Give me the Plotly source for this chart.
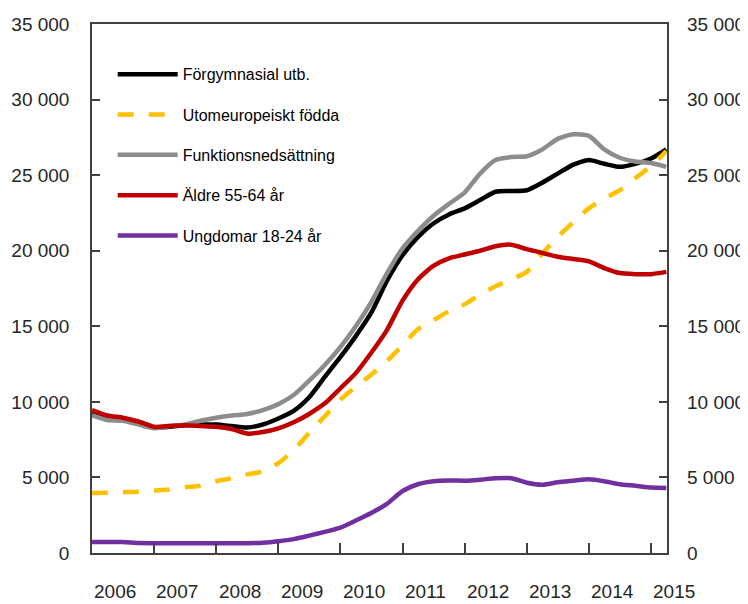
import pandas as pd
import plotly.graph_objects as go

# Quarterly observations, Q1 2006 .. Q2 2015
dates = pd.date_range("2006-01-01", periods=38, freq="QS")

forgymnasial = [9200, 9000, 8850, 8600, 8300, 8350, 8450, 8500, 8500, 8400,
                8300, 8500, 8900, 9400, 10300, 11650, 12970, 14350, 15900, 18000,
                19700, 20900, 21800, 22400, 22800, 23350, 23900, 23950, 24000, 24500,
                25100, 25700, 26000, 25750, 25550, 25750, 26100, 26700]
utomeuropeiskt = [3970, 3980, 4020, 4050, 4130, 4200, 4350, 4450, 4750, 4950,
                  5200, 5400, 5950, 6800, 7950, 9050, 10150, 11000, 11800, 12700,
                  13750, 14800, 15400, 16000, 16450, 17100, 17650, 18100, 18600, 19800,
                  20900, 21900, 22800, 23450, 24000, 24800, 25600, 26600]
funktion = [9100, 8800, 8750, 8500, 8250, 8400, 8500, 8750, 8950, 9100,
            9200, 9450, 9850, 10450, 11400, 12440, 13630, 15000, 16600, 18500,
            20150, 21300, 22300, 23100, 23850, 25100, 26000, 26200, 26250, 26700,
            27400, 27700, 27600, 26700, 26150, 25900, 25800, 25550]
aldre = [9460, 9100, 8950, 8700, 8350, 8400, 8450, 8400, 8350, 8200,
         7900, 8000, 8250, 8650, 9200, 9900, 10900, 11900, 13250, 14750,
         16700, 18100, 19000, 19500, 19750, 20000, 20300, 20400, 20100, 19850,
         19600, 19450, 19300, 18850, 18520, 18450, 18450, 18600]
ungdomar = [730, 730, 720, 660, 650, 650, 650, 650, 650, 650,
            650, 680, 780, 920, 1150, 1400, 1680, 2150, 2650, 3250,
            4100, 4550, 4750, 4800, 4780, 4850, 4950, 4950, 4650, 4520,
            4680, 4780, 4880, 4750, 4550, 4450, 4330, 4300]

series_names = ["Förgymnasial utb.", "Utomeuropeiskt födda", "Funktionsnedsättning",
                "Äldre 55-64 år", "Ungdomar 18-24 år"]
series_values = [forgymnasial, utomeuropeiskt, funktion, aldre, ungdomar]
series_colors = ["#000000", "#FFC000", "#8C8C8C", "#C00000", "#7030A0"]
series_dash = ["solid", "16px,15px", "solid", "solid", "solid"]

year_labels = ["2006", "2007", "2008", "2009", "2010", "2011", "2012", "2013", "2014", "2015"]
y_ticks = [0, 5000, 10000, 15000, 20000, 25000, 30000, 35000]
y_ticktext = ["0", "5 000", "10 000", "15 000", "20 000", "25 000", "30 000", "35 000"]

FONT = "Liberation Sans, Arial, sans-serif"
AX = "#404040"
TXT = "#262626"

X_START, X_END = pd.Timestamp("2006-01-01"), pd.Timestamp("2015-04-05")

fig = go.Figure()
for i, (name, vals, col, dash) in enumerate(zip(series_names, series_values, series_colors, series_dash)):
    fig.add_trace(go.Scatter(
        x=dates, y=vals, name=name, mode="lines", legendgroup=f"g{i}",
        line=dict(color=col, width=4.5, dash=dash, shape="spline", smoothing=0.6),
    ))
# invisible trace for the right-hand axis
fig.add_trace(go.Scatter(x=[dates[0]], y=[0], yaxis="y2", showlegend=False,
                         mode="lines", line=dict(width=0), hoverinfo="skip"))

xticks = [f"{y}-01-01" for y in range(2007, 2016)]
# page body adds an 8px offset, so the figure is 740x596 with margins reduced by 8
fig.update_layout(
    width=740, height=596,
    margin=dict(l=84, r=81, t=16, b=51, autoexpand=False),
    paper_bgcolor="white", plot_bgcolor="white",
    font=dict(family=FONT, size=19, color=TXT),
    showlegend=True,
    legend=dict(x=0.036, y=0.937, xanchor="left", yanchor="top",
                bgcolor="rgba(0,0,0,0)", font=dict(size=16, color="#000000"),
                tracegroupgap=16.5, itemwidth=60),
    xaxis=dict(type="date", range=[X_START, X_END],
               tickvals=xticks, ticktext=[""] * len(xticks),
               ticks="inside", ticklen=10, tickwidth=1.5, tickcolor=AX,
               showline=True, linecolor=AX, linewidth=1.5, mirror=True,
               showgrid=False, zeroline=False, automargin=False),
    yaxis=dict(range=[0, 35000], tickvals=y_ticks, ticktext=y_ticktext,
               ticks="inside", ticklen=8, tickwidth=1.5, tickcolor=AX,
               showline=True, linecolor=AX, linewidth=1.5, mirror="ticks",
               showgrid=False, zeroline=False, ticklabelstandoff=17, automargin=False),
    yaxis2=dict(range=[0, 35000], tickvals=y_ticks, ticktext=y_ticktext,
                overlaying="y", side="right", ticks="", showline=False,
                showgrid=False, zeroline=False, ticklabelstandoff=19, automargin=False),
)

span = (X_END - X_START).days
for lab in year_labels:
    pos = (pd.Timestamp(f"{lab}-05-18") - X_START).days / span
    fig.add_annotation(x=pos, y=0, xref="paper", yref="paper",
                       xanchor="center", yanchor="middle",
                       yshift=-38, text=lab, showarrow=False,
                       font=dict(family=FONT, size=19, color=TXT))

fig.write_html("out.html")
